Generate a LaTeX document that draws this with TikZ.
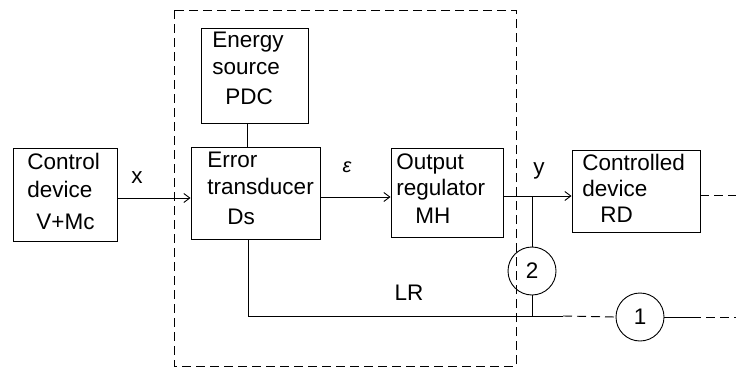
\documentclass[tikz,border=0pt]{standalone}
\usepackage{fontspec}
\setmainfont{Liberation Sans}
\usetikzlibrary{arrows.meta}
\begin{document}
\begin{tikzpicture}[x=1pt,y=-1pt,
  line width=0.9pt,
  blockbox/.style={draw,rectangle,inner sep=0pt},
  txt/.style={font=\fontsize{22.5}{26}\selectfont,inner sep=0pt,anchor=west,text height=15pt,text depth=0pt},
  lbl/.style={font=\fontsize{22.5}{26}\selectfont,inner sep=0pt},
  ring/.style={draw,circle,minimum size=48pt,inner sep=0pt,font=\fontsize{22.5}{26}\selectfont},
  sig/.style={-{Straight Barb[length=6pt,width=9pt,line width=0.9pt]}},
  dsh/.style={dash pattern=on 9pt off 5pt}]
\useasboundingbox (0,0) rectangle (736,372);
% dashed frame
\draw[dsh] (174,10) rectangle (516,366);
% boxes
\node[blockbox,minimum width=104pt,minimum height=93pt] (cd) at (65,194.5) {};
\node[blockbox,minimum width=107pt,minimum height=95pt] (es) at (254.5,75.5) {};
\node[blockbox,minimum width=129pt,minimum height=92pt] (et) at (255.5,193) {};
\node[blockbox,minimum width=112pt,minimum height=89pt] (or) at (447,192.5) {};
\node[blockbox,minimum width=128pt,minimum height=82pt] (rd) at (636,191) {};
% box texts
\node[txt] (cd1) at (27,162) {Control};
\node[txt] (cd2) at (27,190) {device};
\node[txt] (cd3) at (36,222) {V+Mc};
\node[txt] (es1) at (212,40) {Energy};
\node[txt] (es2) at (212,67) {source};
\node[txt] (es3) at (225,97) {PDC};
\node[txt] (et1) at (207,160) {Error};
\node[txt] (et2) at (207,187) {transducer};
\node[txt] (et3) at (227,217) {Ds};
\node[txt] (or1) at (396,162) {Output};
\node[txt] (or2) at (396,188) {regulator};
\node[txt] (or3) at (415,216) {MH};
\node[txt] (rd1) at (582,163) {Controlled};
\node[txt] (rd2) at (582,189) {device};
\node[txt] (rd3) at (600,215) {RD};
% circles
\node[ring] (c2) at (532,271) {2};
\node[ring] (c1) at (640,317) {1};
% coordinates
\coordinate (a1) at (cd.east |- 0,198);
\coordinate (a2) at (et.west |- 0,198);
\coordinate (b1) at (et.east |- 0,197);
\coordinate (b2) at (or.west |- 0,197);
\coordinate (d1) at (or.east |- 0,196);
\coordinate (d2) at (rd.west |- 0,196);
\coordinate (br) at (532,196);
\coordinate (esb) at (es.south -| 247,0);
\coordinate (etn) at (et.north -| 247,0);
\coordinate (ets) at (et.south -| 248,0);
\coordinate (lrc) at (248,316);
\coordinate (lrj) at (532,316);
\coordinate (lre) at (563,316);
\coordinate (c1e) at (692,317);
\coordinate (endr) at (736,317);
\coordinate (rdo) at (rd.east |- 0,195);
\coordinate (rde) at (736,195);
% connectors
\draw[sig] (a1) -- (a2);
\draw[sig] (b1) -- (b2);
\draw[sig] (d1) -- (d2);
\draw (esb) -- (etn);
\draw (br) -- (c2.north);
\draw (c2.south) -- (lrj);
\draw (ets) -- (lrc) -- (lre);
\draw[dsh] (lre) -- (c1.west);
\draw (c1.east) -- (c1e);
\draw[dsh] (c1e) -- (endr);
\draw[dsh] (rdo) -- (rde);
% labels
\node[lbl] (lx) at (137,178) {x};
\node[font=\fontsize{20}{22}\selectfont\itshape,inner sep=0pt] (leps) at (347,167) {ε};
\node[lbl] (ly) at (539,171) {y};
\node[lbl] (llr) at (409,293) {LR};
\end{tikzpicture}
\end{document}
